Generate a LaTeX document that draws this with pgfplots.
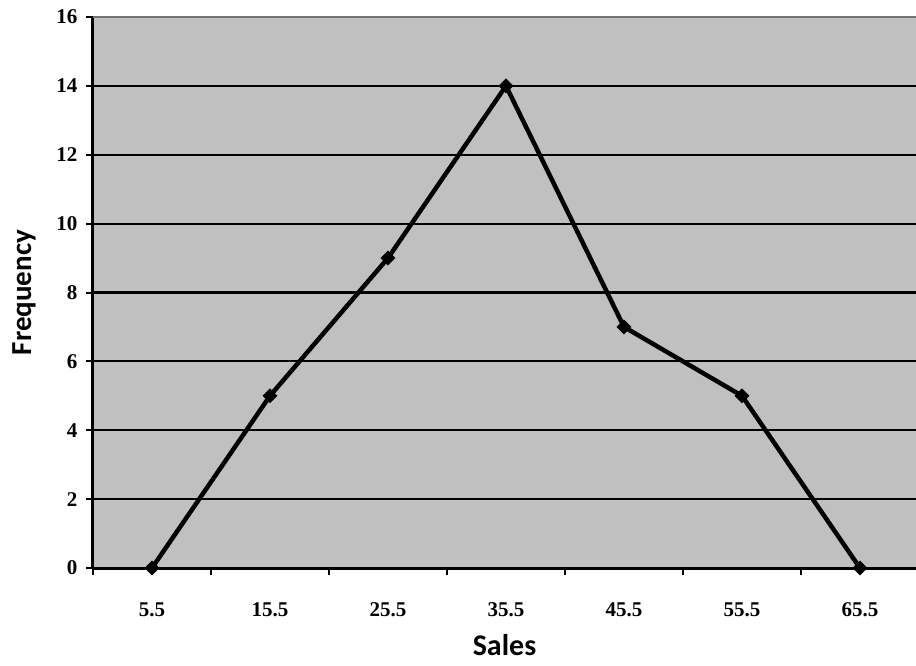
\documentclass[border=0pt]{standalone}
\usepackage{pgfplots}
\pgfplotsset{compat=1.18}
\usepackage{fontspec}
\setmainfont{Liberation Serif}
\newfontfamily\labfont{Carlito}
\newcommand{\tl}[1]{{\fontsize{21}{21}\selectfont\bfseries #1}}
\definecolor{plotgray}{HTML}{C0C0C0}
\begin{document}
\begin{tikzpicture}[x=1pt,y=1pt]
\path[use as bounding box] (0,0) rectangle (916,665);
\begin{axis}[
  at={(93pt,97pt)}, anchor=south west,
  scale only axis, width=823pt, height=551pt,
  xmin=-0.5, xmax=6.475, ymin=0, ymax=16,
  axis background/.style={fill=plotgray},
  axis x line*=bottom, axis y line*=left,
  axis line style={line width=3pt, black, -},
  xtick={0,...,6}, xticklabels={\tl{5.5},\tl{15.5},\tl{25.5},\tl{35.5},\tl{45.5},\tl{55.5},\tl{65.5}},
  major x tick style={draw=none},
  minor xtick={-0.5,0.5,1.5,2.5,3.5,4.5,5.5},
  minor x tick style={line width=2pt, black},
  minor tick length=7pt,
  ytick={0,2,...,16},
  yticklabels={\tl{0},\tl{2},\tl{4},\tl{6},\tl{8},\tl{10},\tl{12},\tl{14},\tl{16}},
  major tick length=7pt,
  tick align=outside,
  y tick style={line width=2pt, black},
  ymajorgrids, grid style={line width=2.2pt, black},
  xticklabel style={anchor=base, yshift=-41pt},
  yticklabel style={xshift=-5pt},
  xlabel={\labfont\fontsize{30}{30}\selectfont\bfseries Sales},
  ylabel={\labfont\fontsize{29}{29}\selectfont\bfseries Frequency},
  xlabel style={at={(axis description cs:0.5,0)}, anchor=base, yshift=-87pt},
  ylabel style={at={(axis description cs:0,0.5)}, anchor=center, yshift=69pt},
  clip=false,
]
\draw[line width=2.5pt, draw=gray!90!black] (axis cs:-0.5,16) -- (axis cs:6.475,16);
\addplot[line width=4.5pt, black, mark=square*, mark size=5pt, mark options={fill=black, line width=0.5pt, rotate=45}]
  coordinates {(0,0) (1,5) (2,9) (3,14) (4,7) (5,5) (6,0)};
\end{axis}
\end{tikzpicture}
\end{document}
